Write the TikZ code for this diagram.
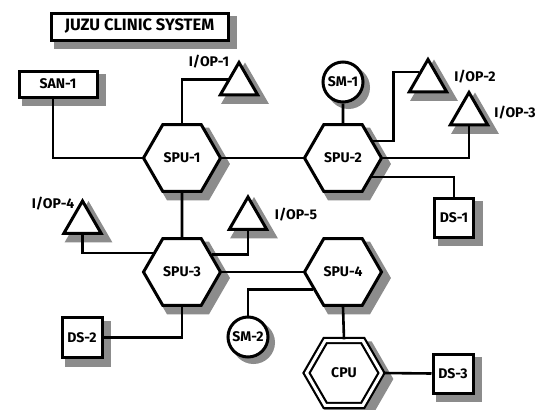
\documentclass[tikz,border=0pt]{standalone}
\usepackage{fontspec}
\setmainfont{Fira Sans}
\usetikzlibrary{shapes.geometric}
\pgfdeclarelayer{bglayer}
\pgfdeclarelayer{shadowlayer}
\pgfsetlayers{bglayer,shadowlayer,main}
\newcommand\shadpoly[3][3pt]{\fill[shadc, line width=#1] ([shift={(6,6)}]#2.corner 1) \foreach \i in {2,...,#3}{ -- ([shift={(6,6)}]#2.corner \i)} -- cycle;}
\newcommand\shadcirc[1]{\fill[shadc] ([shift={(5.5,5.5)}]#1.center) circle (20);}
\newcommand\shadrect[1]{\fill[shadc] ([shift={(6,6)}]#1.south west) rectangle ([shift={(6,6)}]#1.north east);}
\begin{document}
\begin{tikzpicture}[x=1pt,y=-1pt,
  shadc/.style={fill=black!45, draw=black!45, line width=3pt, line join=miter},
  base/.style={draw, line width=3pt, fill=white, inner sep=0pt,
    font=\bfseries\fontsize{14}{14}\selectfont},
  hexa/.style={base, regular polygon, regular polygon sides=6, minimum size=77pt},
  tri/.style={base, regular polygon, regular polygon sides=3, minimum size=43pt},
  boxn/.style={base, rectangle, minimum width=#1},
  disk/.style={base, circle, minimum size=40pt},
  lbl/.style={inner sep=0pt, font=\bfseries\fontsize{14}{14}\selectfont},
  conn/.style={line width=2.6pt}]
\begin{pgfonlayer}{bglayer}
\fill[white] (0,0) rectangle (542,410);
\end{pgfonlayer}
\useasboundingbox (0,0) rectangle (542,410);

% nodes
\node[boxn=177pt, minimum height=27pt, font=\bfseries\fontsize{16.5}{16.5}\selectfont] (title) at (139.5,26.5) {JUZU CLINIC SYSTEM};
\node[boxn=78pt, minimum height=26pt] (san1) at (58,84) {SAN-1};
\node[hexa] (spu1) at (182,158) {SPU-1};
\node[hexa] (spu2) at (343,158) {SPU-2};
\node[hexa] (spu3) at (182,272) {SPU-3};
\node[hexa] (spu4) at (343,272) {SPU-4};
\node[base, regular polygon, regular polygon sides=6, minimum size=75pt, double, double distance=3pt, line width=2.2pt] (cpu) at (344,373) {CPU};
\node[disk] (sm1) at (343,82) {SM-1};
\node[disk] (sm2) at (248,337) {SM-2};
\node[tri] (iop1) at (239,84) {};
\node[tri] (iop2) at (428,81) {};
\node[tri] (iop3) at (469,114) {};
\node[tri] (iop4) at (82.5,222.5) {};
\node[tri] (iop5) at (248,218.5) {};
\node[boxn=39pt, minimum height=39pt] (ds1) at (454,217.5) {DS-1};
\node[boxn=40pt, minimum height=40pt] (ds2) at (82,337.5) {DS-2};
\node[boxn=40pt, minimum height=39pt] (ds3) at (453,373.5) {DS-3};

% labels
\node[lbl] (l1) at (209,62) {I/OP-1};
\node[lbl] (l2) at (475,77) {I/OP-2};
\node[lbl] (l3) at (515,113) {I/OP-3};
\node[lbl] (l4) at (53,204) {I/OP-4};
\node[lbl] (l5) at (296,215) {I/OP-5};

% shadows
\begin{pgfonlayer}{shadowlayer}
\shadrect{title}
\shadrect{san1}
\shadrect{ds1}
\shadrect{ds2}
\shadrect{ds3}
\shadpoly{spu1}{6}
\shadpoly{spu2}{6}
\shadpoly{spu3}{6}
\shadpoly{spu4}{6}
\shadpoly[8pt]{cpu}{6}
\shadpoly{iop1}{3}
\shadpoly{iop2}{3}
\shadpoly{iop3}{3}
\shadpoly{iop4}{3}
\shadpoly{iop5}{3}
\shadcirc{sm1}
\shadcirc{sm2}
\end{pgfonlayer}

% connectors
\draw[conn] ([xshift=-5pt]san1.south) |- (spu1.west);
\draw[conn] (spu1.north) |- (iop1.158);
\draw[conn] (spu1.east) -- (spu2.west);
\draw[conn] (sm1.south) -- (spu2.north);
\draw[conn] (spu2.29) -- ++(20,0) |- (iop2.135);
\draw[conn] (spu2.east) -| (iop3.south);
\draw[conn] (spu2.-33) -| (ds1.north);
\draw[conn] (spu1.south) -- (spu3.north);
\draw[conn] (iop4.south) |- (spu3.147);
\draw[conn] (spu3.30) -| (iop5.south);
\draw[conn] (spu3.east) -- (spu4.west);
\draw[conn] (spu4.210) -| (sm2.north);
\draw[conn] (spu3.south) |- (ds2.east);
\draw[conn] (spu4.south) -- (cpu.north);
\draw[conn] (cpu.east) -- (ds3.west);
\end{tikzpicture}
\end{document}
